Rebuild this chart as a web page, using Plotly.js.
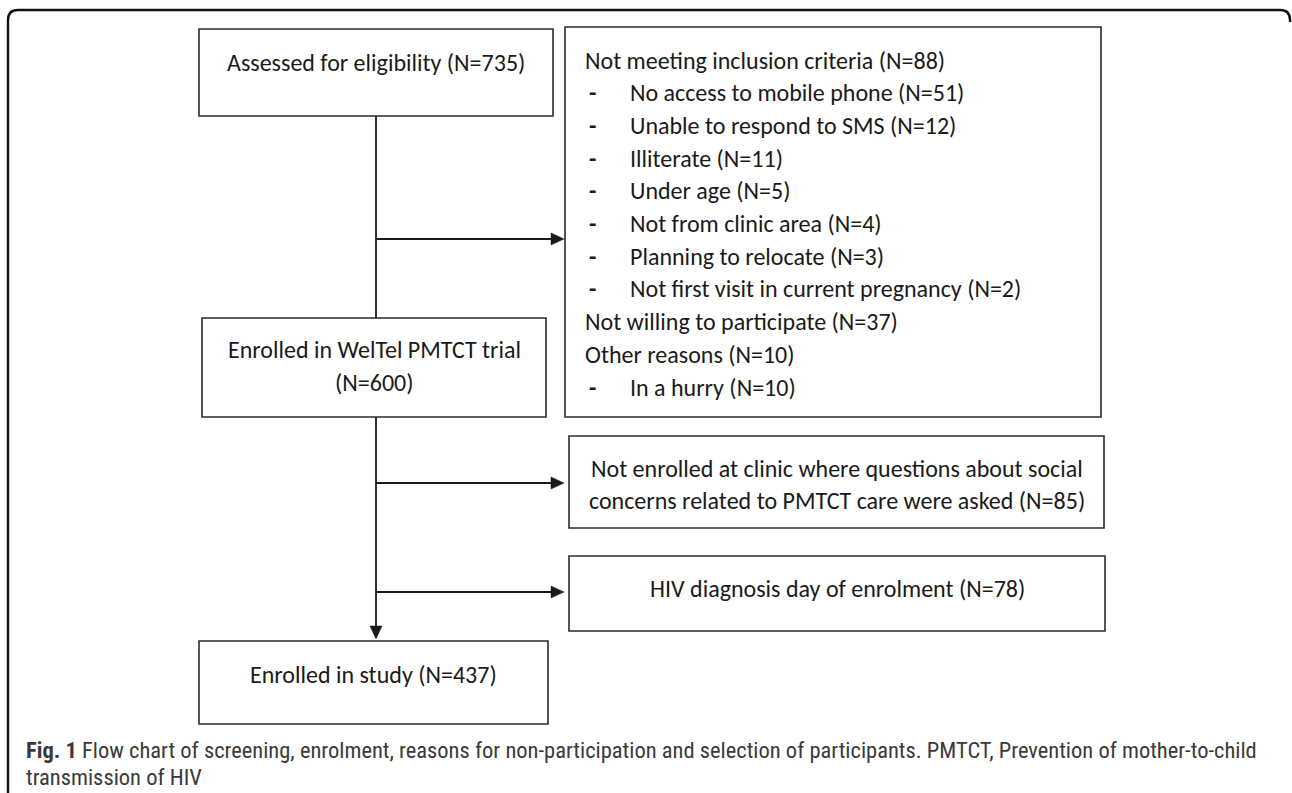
<!DOCTYPE html>
<html>
<head>
<meta charset="utf-8">
<script src="https://cdn.plot.ly/plotly-3.0.1.min.js"></script>
<style>html,body{margin:0;padding:0;background:#fff;}#chart{width:1292px;height:793px;}</style>
</head>
<body>
<div id="chart"></div>
<script>
// ---------- DATA ----------
const mainLabels = ["Assessed for eligibility", "Enrolled in WelTel PMTCT trial", "Enrolled in study"];
const mainN = [735, 600, 437];

const exclGroups = ["Not meeting inclusion criteria", "Not willing to participate", "Other reasons"];
const exclGroupN = [88, 37, 10];

const inclusionReasons = ["No access to mobile phone", "Unable to respond to SMS", "Illiterate", "Under age",
  "Not from clinic area", "Planning to relocate", "Not first visit in current pregnancy"];
const inclusionN = [51, 12, 11, 5, 4, 3, 2];

const otherReasons = ["In a hurry"];
const otherN = [10];

const laterExclusions = ["Not enrolled at clinic where questions about social concerns related to PMTCT care were asked",
  "HIV diagnosis day of enrolment"];
const laterN = [85, 78];

const captionLabel = "Fig. 1";
const captionText = "Flow chart of screening, enrolment, reasons for non-participation and selection of participants. PMTCT, Prevention of mother-to-child transmission of HIV";

// ---------- LAYOUT (pixel geometry) ----------
const W = 1292, H = 793;
const fmt = (label, n) => label + " (N=" + n + ")";
const textFont = {family: "Carlito, Lato, 'Open Sans', sans-serif", size: 24, color: "#1a1a1a"};
const boxLine = {color: "#2b2b2b", width: 1.6};
const flowLine = {color: "#1a1a1a", width: 1.8};

// boxes: [x0, x1, y0, y1]
const geom = {
  main: [[199, 553, 29, 116], [202, 546, 318, 417], [199, 548, 641, 724]],
  excl: [565, 1101, 27, 417],
  later: [[569, 1104, 436, 528], [569, 1105, 556, 631]]
};
const spineX = 376;
const branchY = [239, 483, 592];
const branchTipX = [564, 564, 564];

const shapes = [];
const annotations = [];

function rect(g) {
  shapes.push({type: "rect", xref: "x", yref: "y", x0: g[0], x1: g[1], y0: g[2], y1: g[3], line: boxLine, fillcolor: "rgba(0,0,0,0)"});
}
function txt(x, y, s, anchor, font) {
  annotations.push({x: x, y: y, xref: "x", yref: "y", text: s, showarrow: false, xanchor: anchor || "center",
    yanchor: "middle", font: font || textFont, align: "left"});
}
function hArrow(y, x0, x1) {
  const hl = 13, hw = 6;
  shapes.push({type: "line", x0: x0, x1: x1 - hl + 1, y0: y, y1: y, line: flowLine});
  shapes.push({type: "path", path: `M ${x1} ${y} L ${x1 - hl} ${y - hw} L ${x1 - hl} ${y + hw} Z`,
    fillcolor: "#1a1a1a", line: {color: "#1a1a1a", width: 0.5}});
}
function vArrow(x, y0, y1) {
  const hl = 13, hw = 6;
  shapes.push({type: "line", x0: x, x1: x, y0: y0, y1: y1 - hl + 1, line: flowLine});
  shapes.push({type: "path", path: `M ${x} ${y1} L ${x - hw} ${y1 - hl} L ${x + hw} ${y1 - hl} Z`,
    fillcolor: "#1a1a1a", line: {color: "#1a1a1a", width: 0.5}});
}

// outer frame (rounded top corners)
const fr = 10, fl = 8, ft = 10, frr = 1290;
shapes.push({type: "path", path: `M ${fl} ${H + 2} L ${fl} ${ft + fr} Q ${fl} ${ft} ${fl + fr} ${ft} L ${frr - fr} ${ft} Q ${frr} ${ft} ${frr} ${ft + fr} L ${frr} ${ft + fr + 2}`,
  line: {color: "#111", width: 2.4}});

// main boxes
geom.main.forEach(rect);
txt((geom.main[0][0] + geom.main[0][1]) / 2, 62, fmt(mainLabels[0], mainN[0]));
txt((geom.main[1][0] + geom.main[1][1]) / 2, 349, mainLabels[1]);
txt((geom.main[1][0] + geom.main[1][1]) / 2, 382, "(N=" + mainN[1] + ")");
txt((geom.main[2][0] + geom.main[2][1]) / 2, 674, fmt(mainLabels[2], mainN[2]));

// exclusion box
rect(geom.excl);
const lineY0 = 60, lineStep = 32.7, headX = 583, dashX = 592, itemX = 628;
const lines = [];
lines.push({kind: "head", s: fmt(exclGroups[0], exclGroupN[0])});
inclusionReasons.forEach((r, i) => lines.push({kind: "item", s: fmt(r, inclusionN[i])}));
lines.push({kind: "head", s: fmt(exclGroups[1], exclGroupN[1])});
lines.push({kind: "head", s: fmt(exclGroups[2], exclGroupN[2])});
otherReasons.forEach((r, i) => lines.push({kind: "item", s: fmt(r, otherN[i])}));
lines.forEach((l, i) => {
  const y = lineY0 + i * lineStep;
  if (l.kind === "head") txt(headX, y, l.s, "left");
  else {
    txt(dashX, y, "<b>-</b>", "center");
    txt(itemX, y, l.s, "left");
  }
});

// later exclusion boxes
geom.later.forEach(rect);
const g0 = geom.later[0], g1 = geom.later[1];
const words = laterExclusions[0].split(" ");
const split = 8; // words on first line
txt((g0[0] + g0[1]) / 2, 468, words.slice(0, split).join(" "));
txt((g0[0] + g0[1]) / 2, 500, fmt(words.slice(split).join(" "), laterN[0]));
txt((g1[0] + g1[1]) / 2, 588, fmt(laterExclusions[1], laterN[1]));

// flow lines
shapes.push({type: "line", x0: spineX, x1: spineX, y0: geom.main[0][3], y1: geom.main[1][2], line: flowLine});
vArrow(spineX, geom.main[1][3], geom.main[2][2] - 2);
branchY.forEach((y, i) => hArrow(y, spineX, branchTipX[i]));

// caption
const capFont = {family: "'Liberation Sans Narrow', 'Roboto Condensed', Lato, sans-serif", size: 22.5, color: "#3a3a3a"};
const capWords = captionText.split(" ");
const capSplit = 16;
annotations.push({x: 24, y: 750, xref: "x", yref: "y", xanchor: "left", yanchor: "middle", showarrow: false,
  text: "<b>" + captionLabel + "</b> " + capWords.slice(0, capSplit).join(" "), font: capFont});
annotations.push({x: 24, y: 777, xref: "x", yref: "y", xanchor: "left", yanchor: "middle", showarrow: false,
  text: capWords.slice(capSplit).join(" "), font: capFont});

const layout = {
  width: W, height: H,
  margin: {l: 0, r: 0, t: 0, b: 0, pad: 0},
  paper_bgcolor: "#fff", plot_bgcolor: "#fff",
  xaxis: {range: [0, W], visible: false, fixedrange: true},
  yaxis: {range: [H, 0], visible: false, fixedrange: true},
  showlegend: false,
  shapes: shapes,
  annotations: annotations
};
Plotly.newPlot("chart", [], layout, {displayModeBar: false, staticPlot: true});
</script>
</body>
</html>
